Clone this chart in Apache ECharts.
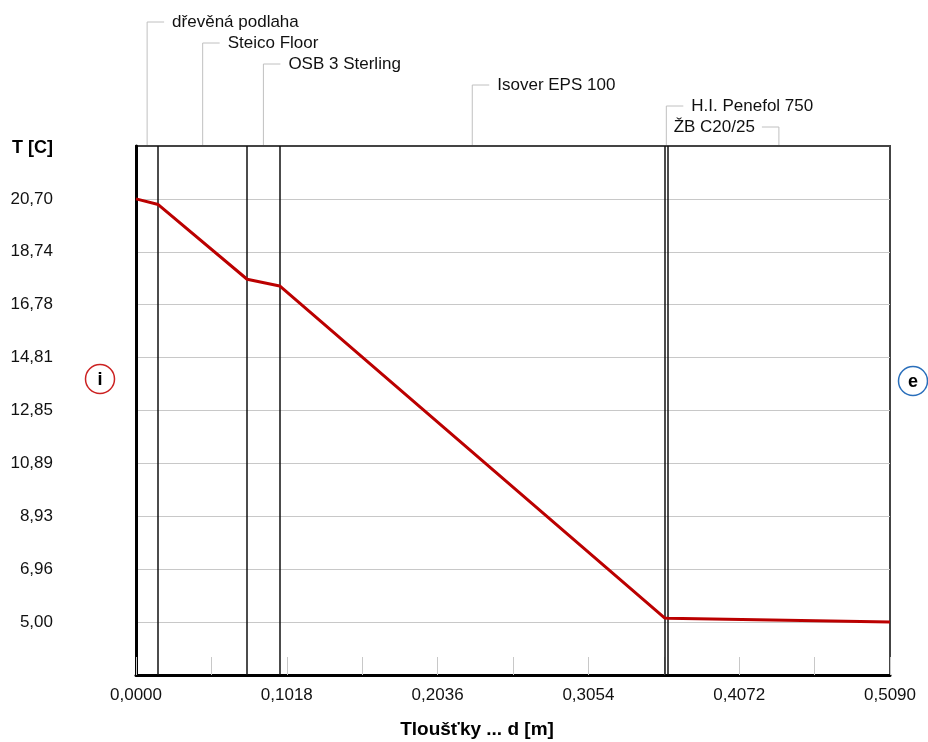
<!DOCTYPE html>
<html>
<head>
<meta charset="utf-8">
<title>Teplotní průběh v konstrukci</title>
<script src="https://cdn.jsdelivr.net/npm/echarts@6/dist/echarts.min.js"></script>
<style>
    html, body { margin: 0; padding: 0; background: #fff; }
    #chart { width: 928px; height: 742px; }
</style>
</head>
<body>
<div id="chart"></div>
<script>
// vrstvy konstrukce (od interiéru)
const layerNames = ['dřevěná podlaha', 'Steico Floor', 'OSB 3 Sterling', 'Isover EPS 100', 'H.I. Penefol 750', 'ŽB C20/25'];
const layerBounds = [0, 0.015, 0.075, 0.097, 0.357, 0.359, 0.509];
// teplota na rozhraní vrstev [C]
const boundaryTemps = [20.70, 20.49, 17.72, 17.47, 5.15, 5.14, 5.00];

const xTickLabels = ['0,0000', '0,1018', '0,2036', '0,3054', '0,4072', '0,5090'];
const yTickValues = [5.00, 6.9625, 8.925, 10.8875, 12.85, 14.8125, 16.775, 18.7375, 20.70];
const yTickLabels = ['5,00', '6,96', '8,93', '10,89', '12,85', '14,81', '16,78', '18,74', '20,70'];

const X_STEP = 0.0509;
const Y_STEP = 1.9625;
const FONT = '"Liberation Sans", Arial, sans-serif';

const chart = echarts.init(document.getElementById('chart'));

const option = {
    animation: false,
    backgroundColor: '#fff',
    grid: {
        left: 136, top: 146, width: 754, height: 529,
        outerBoundsMode: 'none',
        containLabel: false,
        show: true, borderColor: '#444', borderWidth: 2, backgroundColor: 'transparent'
    },
    xAxis: {
        type: 'value',
        min: 0,
        max: layerBounds[layerBounds.length - 1],
        interval: X_STEP,
        axisLine: { onZero: false, lineStyle: { color: '#000', width: 3 } },
        axisTick: { inside: true, length: 18, lineStyle: { color: '#c8c8c8', width: 1 } },
        axisLabel: {
            margin: 12,
            fontFamily: FONT, fontSize: 17, color: '#111',
            showMinLabel: true, showMaxLabel: true,
            formatter: function (v) {
                const k = Math.round(v / X_STEP);
                return k % 2 === 0 ? (xTickLabels[k / 2] || '') : '';
            }
        },
        splitLine: { show: false }
    },
    yAxis: {
        type: 'value',
        min: yTickValues[0] - Y_STEP,
        max: yTickValues[yTickValues.length - 1] + Y_STEP,
        axisLine: { lineStyle: { color: '#000', width: 3 } },
        axisTick: { show: false, customValues: yTickValues },
        axisLabel: {
            customValues: yTickValues,
            margin: 83,
            fontFamily: FONT, fontSize: 17, color: '#111',
            formatter: function (v) {
                const i = yTickValues.findIndex(t => Math.abs(t - v) < 1e-6);
                return i >= 0 ? yTickLabels[i] : '';
            }
        },
        splitLine: { show: true, lineStyle: { color: '#c8c8c8', width: 1 } }
    },
    series: [
        {
            name: 'T',
            type: 'line',
            symbol: 'none',
            silent: true,
            lineStyle: { color: '#bb0000', width: 3 },
            data: layerBounds.map((d, i) => [d, boundaryTemps[i]]),
            markLine: {
                silent: true,
                symbol: 'none',
                precision: 4,
                label: { show: false },
                lineStyle: { color: '#111', width: 1.5, type: 'solid' },
                data: layerBounds.slice(1, -1).map(d => ({ xAxis: d }))
            },
            z: 5
        }
    ]
};

chart.setOption(option);

// popisky vrstev s vodícími čarami nad grafem
const yTop = option.yAxis.max;
const graphics = [];
layerNames.forEach((name, i) => {
    const mid = (layerBounds[i] + layerBounds[i + 1]) / 2;
    const p = chart.convertToPixel({ gridIndex: 0 }, [mid, yTop]);
    const ly = 22 + 21 * i;
    const toLeft = i === layerNames.length - 1;
    const ex = toLeft ? p[0] - 17 : p[0] + 17;
    graphics.push({
        type: 'polyline',
        silent: true,
        shape: { points: [[p[0], p[1] - 1], [p[0], ly], [ex, ly]] },
        style: { stroke: '#c0c0c0', lineWidth: 1, fill: null }
    });
    graphics.push({
        type: 'text',
        silent: true,
        x: toLeft ? ex - 7 : ex + 8,
        y: ly,
        style: {
            text: name, fontFamily: FONT, fontSize: 17, fill: '#111',
            align: toLeft ? 'right' : 'left', verticalAlign: 'middle'
        }
    });
});

// názvy os a značky interiér / exteriér
graphics.push({
    type: 'text', silent: true, x: 12, y: 148,
    style: { text: 'T [C]', fontFamily: FONT, fontSize: 18, fontWeight: 'bold', fill: '#000', verticalAlign: 'middle' }
});
graphics.push({
    type: 'text', silent: true, x: 477, y: 730,
    style: { text: 'Tloušťky ... d [m]', fontFamily: FONT, fontSize: 19, fontWeight: 'bold', fill: '#000', align: 'center', verticalAlign: 'middle' }
});
[['i', 100, 379, '#cc2222'], ['e', 913, 381, '#2a6fbb']].forEach(s => {
    graphics.push({
        type: 'circle', silent: true,
        shape: { cx: s[1], cy: s[2], r: 14.5 },
        style: { stroke: s[3], lineWidth: 1.5, fill: '#fff' }
    });
    graphics.push({
        type: 'text', silent: true, x: s[1], y: s[2] + 1,
        style: { text: s[0], fontFamily: FONT, fontSize: 18, fontWeight: 'bold', fill: '#000', align: 'center', verticalAlign: 'middle' }
    });
});

chart.setOption({ graphic: graphics });
</script>
</body>
</html>
